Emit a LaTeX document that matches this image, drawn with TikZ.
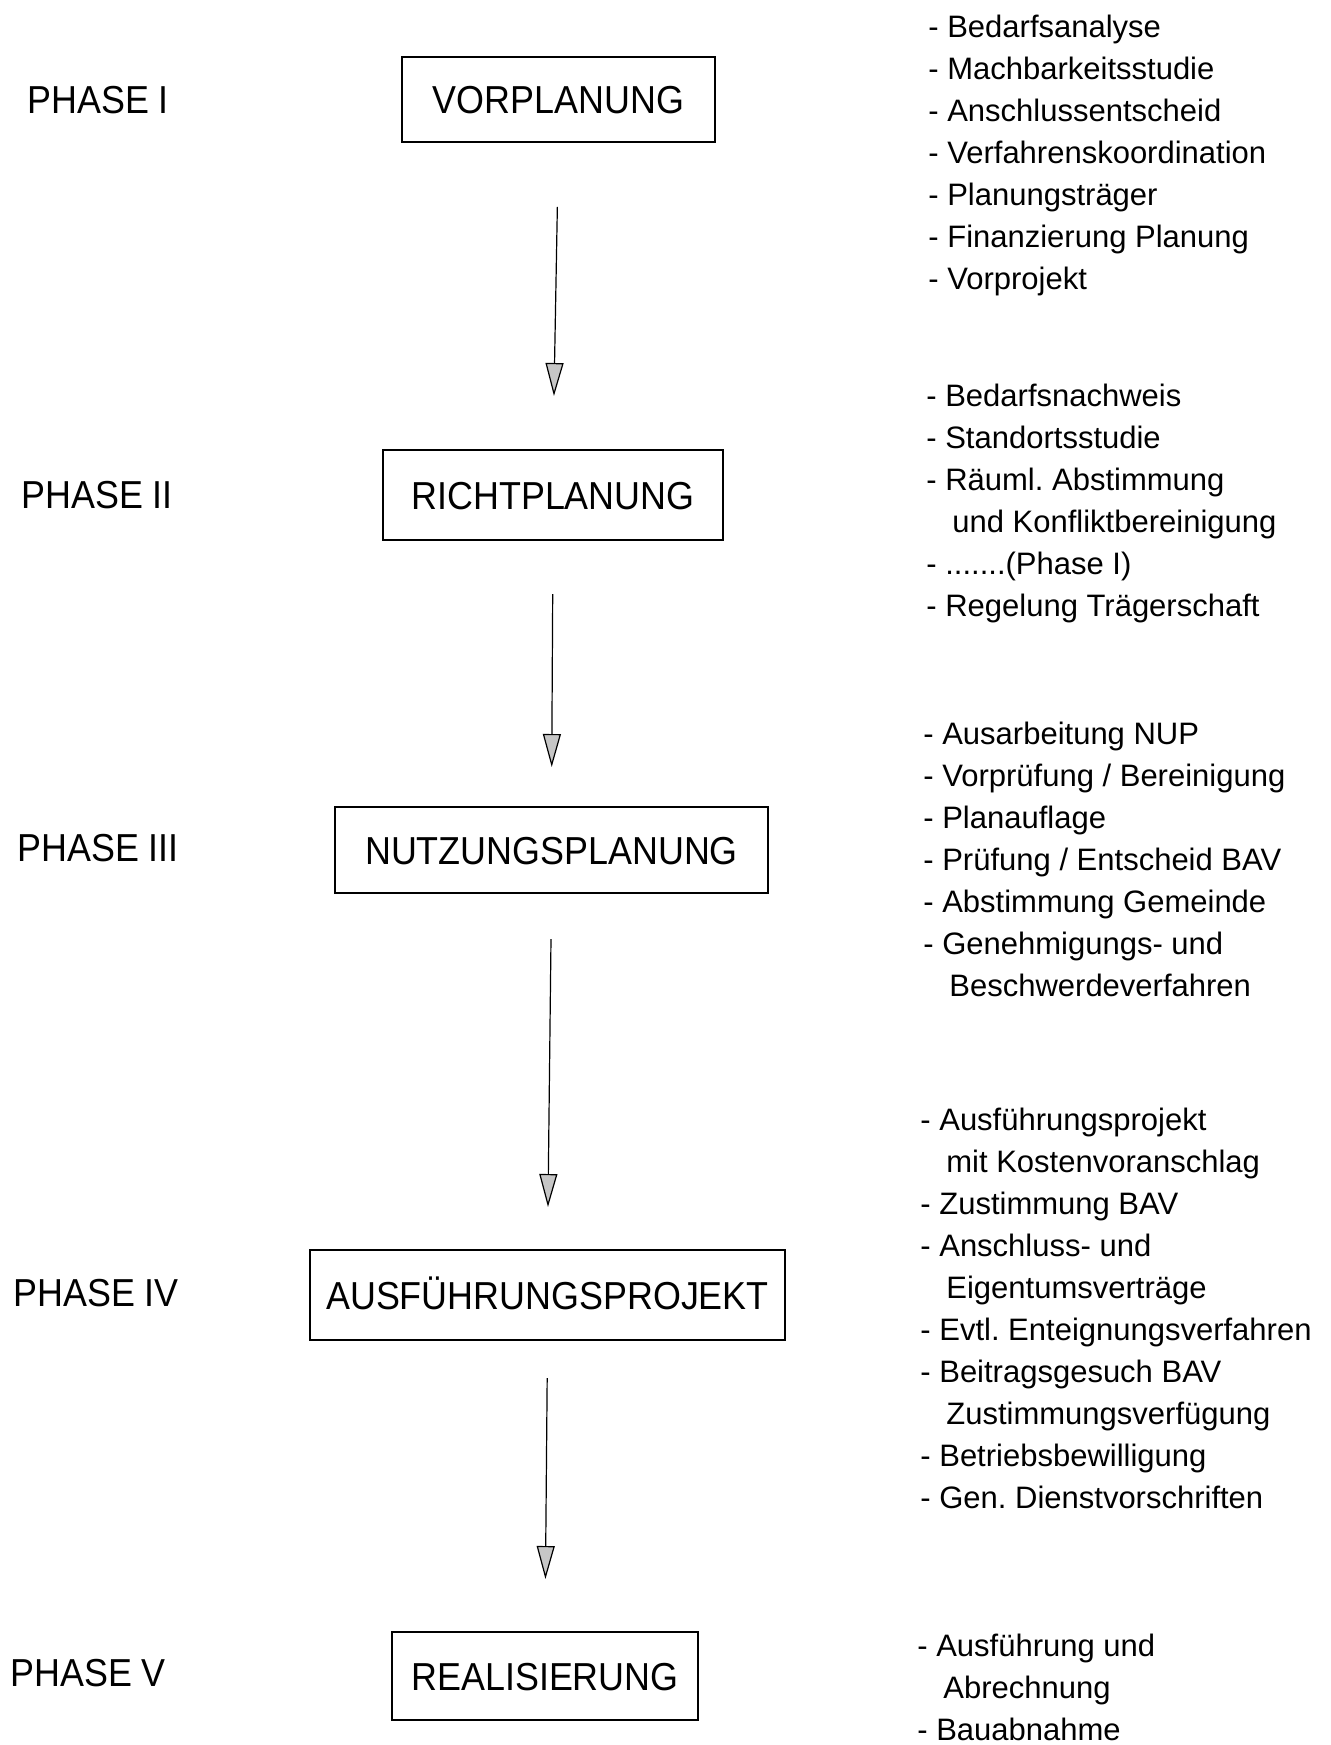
\documentclass[tikz,border=0pt]{standalone}
\usepackage{fontspec}
\setmainfont{Liberation Sans}
\newfontfamily\boxfont{Liberation Sans}[FakeStretch=0.92]
\usetikzlibrary{arrows.meta}
\begin{document}
\frenchspacing
\begin{tikzpicture}[x=0.5pt,y=-0.5pt,
  phasebox/.style={draw, line width=1pt, inner sep=0pt, font=\fontsize{19.5pt}{23pt}\boxfont, text height=14pt, text depth=0pt},
  phaselabel/.style={anchor=base west, inner sep=0pt, font=\fontsize{19.5pt}{23pt}\boxfont},
  itemlist/.style={anchor=base west, inner sep=0pt, align=left, font=\fontsize{15.5pt}{21pt}\selectfont\frenchspacing},
  flow/.style={line width=0.6pt, -{Triangle[width=9pt,length=16.5pt,fill=gray!45,line width=0.6pt]}}
]
\useasboundingbox (0,0) rectangle (1330,1745);

% boxes
\node[phasebox, minimum width=156.5pt, minimum height=42.5pt] (v1) at (558.5,99.5) {VORPLANUNG};
\node[phasebox, minimum width=170pt, minimum height=45pt] (v2) at (553,495) {RICHTPLANUNG};
\node[phasebox, minimum width=216.5pt, minimum height=43pt] (v3) at (551.5,850) {NUTZUNGSPLANUNG};
\node[phasebox, minimum width=237.5pt, minimum height=45pt] (v4) at (547.5,1295) {AUSFÜHRUNGSPROJEKT};
\node[phasebox, minimum width=153pt, minimum height=44pt] (v5) at (545,1676) {REALISIERUNG};

% arrows
\draw[flow, shorten <=32pt, shorten >=26.5pt] (v1.south) -- (v2.north);
\draw[flow, shorten <=26.5pt, shorten >=19.5pt] (v2.south) -- (v3.north);
\draw[flow, shorten <=22.5pt, shorten >=21pt] (v3.south) -- (v4.north);
\draw[flow, shorten <=18.5pt, shorten >=26pt] (v4.south) -- (v5.north);

% phase labels
\node[phaselabel] (p1) at (27,113) {PHASE I};
\node[phaselabel] (p2) at (21,508) {PHASE II};
\node[phaselabel] (p3) at (17,861) {PHASE III};
\node[phaselabel] (p4) at (13,1306) {PHASE IV};
\node[phaselabel] (p5) at (10,1686) {PHASE V};

% item lists (anchored at the baseline of their last line)
\node[itemlist] (g1) at (928,289) {- Bedarfsanalyse\\- Machbarkeitsstudie\\- Anschlussentscheid\\- Verfahrenskoordination\\- Planungsträger\\- Finanzierung Planung\\- Vorprojekt};
\node[itemlist] (g2) at (926,616) {- Bedarfsnachweis\\- Standortsstudie\\- Räuml. Abstimmung\\\hspace*{13pt}und Konfliktbereinigung\\- .......(Phase I)\\- Regelung Trägerschaft};
\node[itemlist] (g3) at (923,996) {- Ausarbeitung NUP\\- Vorprüfung / Bereinigung\\- Planauflage\\- Prüfung / Entscheid BAV\\- Abstimmung Gemeinde\\- Genehmigungs- und\\\hspace*{13pt}Beschwerdeverfahren};
\node[itemlist] (g4) at (920,1508) {- Ausführungsprojekt\\\hspace*{13pt}mit Kostenvoranschlag\\- Zustimmung BAV\\- Anschluss- und\\\hspace*{13pt}Eigentumsverträge\\- Evtl. Enteignungsverfahren\\- Beitragsgesuch BAV\\\hspace*{13pt}Zustimmungsverfügung\\- Betriebsbewilligung\\- Gen. Dienstvorschriften};
\node[itemlist] (g5) at (917,1740) {- Ausführung und\\\hspace*{13pt}Abrechnung\\- Bauabnahme};
\end{tikzpicture}
\end{document}
